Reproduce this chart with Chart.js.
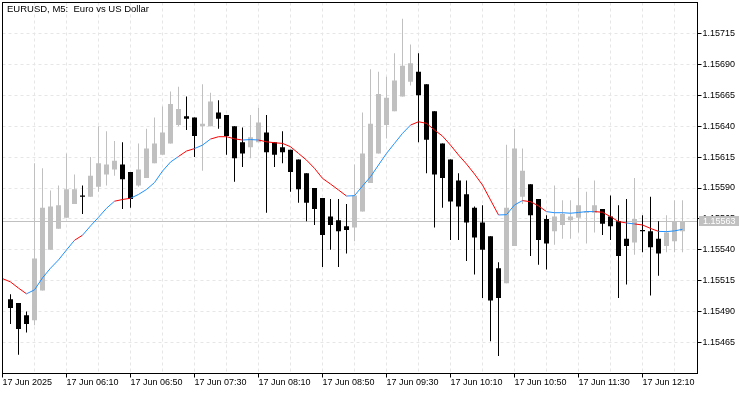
<!DOCTYPE html>
<html><head><meta charset="utf-8">
<script src="https://cdn.jsdelivr.net/npm/chart.js@4.4.1/dist/chart.umd.min.js"></script>
<style>html,body{margin:0;padding:0;background:#fff;overflow:hidden}canvas{display:block}</style>
</head><body>
<canvas id="c" width="750" height="394"></canvas>
<script>
const chartTitle = 'EURUSD, M5:  Euro vs US Dollar';
const tickIndex = [0, 8, 16, 24, 32, 40, 48, 56, 64, 72, 80];
const tickLabels = ['17 Jun 2025','17 Jun 06:10','17 Jun 06:50','17 Jun 07:30','17 Jun 08:10','17 Jun 08:50','17 Jun 09:30','17 Jun 10:10','17 Jun 10:50','17 Jun 11:30','17 Jun 12:10'];
const priceTicks = [1.15465, 1.15490, 1.15515, 1.15540, 1.15565, 1.15590, 1.15615, 1.15640, 1.15665, 1.15690, 1.15715];

const open = [null,
1.15500,1.15497,1.15487,1.15483,1.15507,1.15540,1.15557,1.15566,1.15577,1.15584,
1.15583,1.15591,1.15601,1.15605,1.15609,1.15603,1.15592,1.15598,1.15610,1.15617,
1.15626,1.15641,1.15648,1.15647,1.15640,1.15640,1.15651,1.15649,1.15640,1.15627,
1.15623,1.15627,1.15635,1.15627,1.15623,1.15621,1.15613,1.15602,1.15590,1.15582,
1.15567,1.15564,1.15559,1.15558,1.15571,1.15594,1.15618,1.15641,1.15652,1.15664,
1.15676,1.15684,1.15674,1.15652,1.15626,1.15613,1.15596,1.15585,1.15574,1.15562,
1.15551,1.15525,1.15513,1.15543,1.15583,1.15593,1.15581,1.15565,1.15555,1.15560,
1.15564,1.15566,1.15570,1.15570,1.15573,1.15567,1.15563,1.15549,1.15546,1.15556,
1.15555,1.15549,1.15543,1.15547,1.15555];
const high = [null,
1.15504,1.15497,1.15490,1.15610,1.15606,1.15588,1.15592,1.15618,1.15601,1.15592,
1.15615,1.15640,1.15636,1.15628,1.15627,1.15603,1.15626,1.15638,1.15647,1.15656,
1.15668,1.15672,1.15664,1.15647,1.15674,1.15667,1.15661,1.15649,1.15640,1.15639,
1.15649,1.15655,1.15649,1.15627,1.15636,1.15621,1.15613,1.15602,1.15590,1.15582,
1.15581,1.15581,1.15577,1.15609,1.15651,1.15686,1.15684,1.15680,1.15699,1.15727,
1.15706,1.15699,1.15674,1.15652,1.15626,1.15613,1.15602,1.15596,1.15575,1.15576,
1.15551,1.15530,1.15625,1.15638,1.15622,1.15593,1.15581,1.15568,1.15592,1.15580,
1.15580,1.15598,1.15587,1.15596,1.15573,1.15584,1.15576,1.15581,1.15598,1.15568,
1.15583,1.15563,1.15568,1.15580,1.15580];
const low = [null,
1.15480,1.15455,1.15473,1.15479,1.15507,1.15540,1.15557,1.15566,1.15577,1.15569,
1.15583,1.15587,1.15592,1.15600,1.15573,1.15574,1.15591,1.15598,1.15610,1.15617,
1.15626,1.15640,1.15637,1.15615,1.15604,1.15640,1.15638,1.15617,1.15595,1.15607,
1.15614,1.15627,1.15570,1.15607,1.15610,1.15587,1.15578,1.15563,1.15560,1.15526,
1.15540,1.15526,1.15537,1.15547,1.15571,1.15594,1.15618,1.15630,1.15652,1.15664,
1.15673,1.15627,1.15602,1.15558,1.15574,1.15548,1.15548,1.15531,1.15520,1.15501,
1.15466,1.15454,1.15513,1.15543,1.15577,1.15535,1.15528,1.15524,1.15544,1.15549,
1.15549,1.15554,1.15545,1.15554,1.15552,1.15548,1.15501,1.15512,1.15536,1.15538,
1.15503,1.15519,1.15538,1.15538,1.15538];
const close = [null,
1.15493,1.15476,1.15480,1.15533,1.15574,1.15575,1.15576,1.15589,1.15589,1.15583,
1.15600,1.15610,1.15609,1.15612,1.15597,1.15581,1.15605,1.15622,1.15626,1.15635,
1.15658,1.15654,1.15646,1.15632,1.15642,1.15660,1.15646,1.15632,1.15614,1.15618,
1.15631,1.15643,1.15619,1.15617,1.15619,1.15603,1.15589,1.15578,1.15573,1.15552,
1.15560,1.15555,1.15556,1.15584,1.15618,1.15642,1.15666,1.15663,1.15677,1.15689,
1.15691,1.15665,1.15629,1.15601,1.15598,1.15579,1.15575,1.15562,1.15550,1.15540,
1.15499,1.15501,1.15574,1.15622,1.15604,1.15568,1.15548,1.15545,1.15567,1.15569,
1.15567,1.15576,1.15571,1.15576,1.15561,1.15559,1.15535,1.15543,1.15565,1.15555,
1.15542,1.15537,1.15554,1.15563,1.15563];
const ma = [
1.155167,1.155140,1.155090,1.155044,1.155076,1.155173,1.155251,1.155318,1.155399,1.155477,
1.155518,1.155593,1.155663,1.155736,1.155793,1.155807,1.155817,1.155848,1.155888,1.155944,
1.156037,1.156110,1.156155,1.156199,1.156219,1.156247,1.156296,1.156315,1.156315,1.156298,
1.156288,1.156292,1.156288,1.156274,1.156266,1.156261,1.156234,1.156180,1.156126,1.156059,
1.155978,1.155932,1.155884,1.155835,1.155838,1.155916,1.155991,1.156086,1.156180,1.156261,
1.156342,1.156409,1.156436,1.156423,1.156369,1.156320,1.156247,1.156167,1.156094,1.156013,
1.155924,1.155803,1.155682,1.155684,1.155763,1.155798,1.155789,1.155755,1.155709,1.155700,
1.155700,1.155696,1.155702,1.155709,1.155709,1.155704,1.155668,1.155628,1.155617,1.155609,
1.155601,1.155573,1.155549,1.155547,1.155553,1.155566];

const BULL = '#c0c0c0', BEAR = '#000000', MA_UP = '#1e90ff', MA_DN = '#ff0000';
const isBull = i => close[i] >= open[i];
const idx = open.map((v, i) => i).filter(i => open[i] !== null);
const wickData = idx.map(i => ({x: i, y: [low[i], high[i]]}));
const bodyData = idx.map(i => ({x: i, y: [open[i], close[i]]}));
const candleColors = idx.map(i => isBull(i) ? BULL : BEAR);
const maData = ma.map((v, i) => ({x: i, y: v}));
const lastPrice = close[close.length - 1];

Chart.defaults.font.family = "'Liberation Sans', Arial, sans-serif";
Chart.defaults.font.size = 9;
Chart.defaults.color = '#000';

const overlay = {
  id: 'overlay',
  beforeDatasetsDraw(chart) {
    const {ctx, chartArea: a, scales: {y}} = chart;
    const py = Math.floor(y.getPixelForValue(lastPrice)) + 0.5;
    ctx.save();
    ctx.strokeStyle = '#c0c0c0';
    ctx.lineWidth = 1;
    ctx.beginPath(); ctx.moveTo(a.left, py); ctx.lineTo(a.right, py); ctx.stroke();
    ctx.restore();
  },
  afterDraw(chart) {
    const {ctx, chartArea: a, scales: {y}} = chart;
    ctx.save();
    ctx.strokeStyle = '#000'; ctx.lineWidth = 1;
    ctx.strokeRect(a.left, a.top, a.right - a.left, a.bottom - a.top);
    ctx.fillStyle = '#000';
    ctx.font = "9.5px 'Liberation Sans', Arial, sans-serif";
    ctx.textBaseline = 'top'; ctx.textAlign = 'left';
    ctx.fillText(chartTitle, a.left + 4.5, a.top + 2);
    const py = Math.floor(y.getPixelForValue(lastPrice));
    ctx.fillStyle = '#c0c0c0';
    ctx.fillRect(a.right + 1.5, py - 5, 40, 10);
    ctx.fillStyle = '#fff';
    ctx.font = "9px 'Liberation Sans', Arial, sans-serif";
    ctx.textBaseline = 'middle';
    ctx.fillText(lastPrice.toFixed(5), a.right + 5.5, py + 0.5);
    ctx.restore();
  }
};

new Chart(document.getElementById('c'), {
  type: 'bar',
  data: {
    datasets: [
      {type: 'line', data: maData, order: 0, borderWidth: 1, pointRadius: 0, tension: 0,
       borderColor: MA_UP,
       segment: {borderColor: c => isBull(c.p1DataIndex) ? MA_UP : MA_DN}},
      {data: bodyData, order: 1, backgroundColor: candleColors, barThickness: 5,
       minBarLength: 1, grouped: false, inflateAmount: 0, borderWidth: 0},
      {data: wickData, order: 2, backgroundColor: candleColors, barThickness: 1,
       grouped: false, inflateAmount: 0, borderWidth: 0}
    ]
  },
  options: {
    responsive: false, animation: false, events: [],
    layout: {padding: {left: 2.5, top: 2.5, right: 0, bottom: 0}},
    plugins: {legend: {display: false}, tooltip: {enabled: false}, title: {display: false}},
    scales: {
      x: {
        type: 'linear', min: 0, max: 86.875, offset: false,
        afterBuildTicks: s => { const t = []; for (let v = 0; v <= 84; v += 4) t.push({value: v}); s.ticks = t; },
        afterFit: s => { s.height = 20.5; s.paddingLeft = 0; s.paddingRight = 0; },
        grid: {offset: false, color: '#e6e6e6', lineWidth: 1, tickLength: 4,
               tickColor: c => (c.tick && tickIndex.includes(c.tick.value)) ? '#000' : 'rgba(0,0,0,0)'},
        border: {display: false, dash: [3, 3]},
        ticks: {autoSkip: false, maxRotation: 0, minRotation: 0, align: 'start', padding: 0, color: '#000',
                callback: v => { const k = tickIndex.indexOf(v); return k >= 0 ? tickLabels[k] : ''; }}
      },
      y: {
        type: 'linear', position: 'right', min: 1.1543992, max: 1.1574008,
        afterBuildTicks: s => { s.ticks = priceTicks.map(v => ({value: v})); },
        afterFit: s => { s.width = 52.5; s.paddingTop = 0; s.paddingBottom = 0; },
        grid: {color: '#e6e6e6', lineWidth: 1, tickLength: 4, tickColor: '#000'},
        border: {display: false, dash: [3, 3]},
        ticks: {autoSkip: false, padding: 1, color: '#000', callback: v => v.toFixed(5)}
      }
    }
  },
  plugins: [overlay]
});
</script>
</body></html>
